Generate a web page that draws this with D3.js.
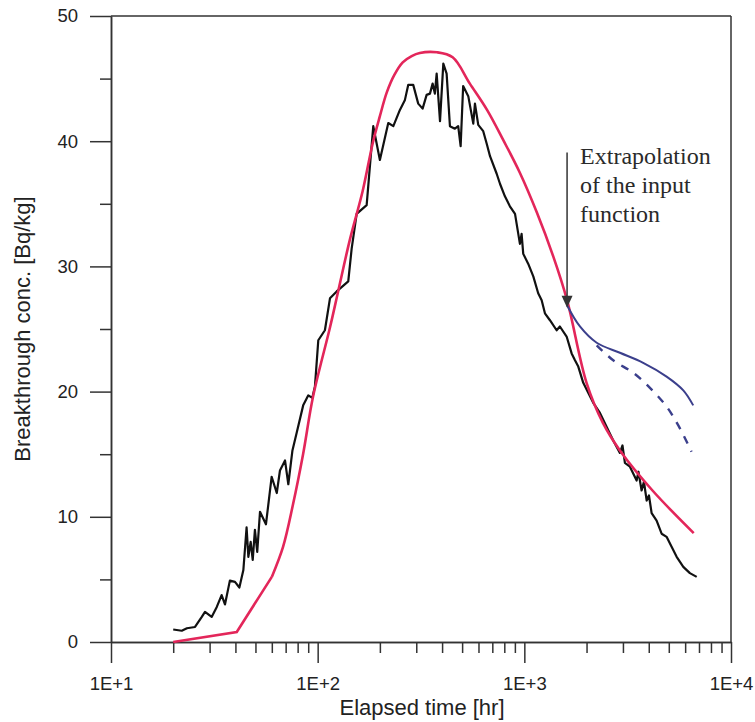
<!DOCTYPE html>
<html>
<head>
<meta charset="utf-8">
<script src="https://cdn.jsdelivr.net/npm/d3@7"></script>
<style>
  body { margin: 0; background: #fff; }
  .axis path, .axis line { stroke: #333; stroke-width: 1.5; }
  .axis text { font-family: "Liberation Sans", Arial, sans-serif; font-size: 18.5px; fill: #222; }
  .axis-title { font-family: "Liberation Sans", Arial, sans-serif; font-size: 22px; fill: #222; }
  .note { font-family: "Liberation Serif", "Times New Roman", serif; font-size: 24px; fill: #2a2a2a; }
</style>
</head>
<body>
<div id="chart-area"></div>
<script>
/*
*    breakthrough curve, log time axis
*/

// measured breakthrough (black)
var measTime = [20,22,23.3,25.5,27.5,28.5,30.7,32.5,34.3,35.6,
    37.6,39.8,41.8,43.7,45.3,46.2,47.4,48.5,49.7,51,
    52.6,56.2,59.9,63.4,65.7,69.5,72.1,75.5,79.1,85.1,
    90.1,94.2,97,100.7,108.4,114.7,123.6,140.6,146,154.4,
    172.6,185.8,200,219.6,232.3,250,264.4,274.4,290,306.6,
    322,336.7,349.4,359.9,369,376.5,390.8,405.5,420.7,436.5,
    461.3,478.6,491.8,505.8,535.5,566.2,576.8,598.4,632.6,657.7,
    682.3,734.9,762.4,805.4,851.5,901.5,918,952,970,988,
    1045,1105,1167,1213,1258,1330,1433,1486,1602,1694,
    1758,1824,1928,2038,2155,2322,2500,2692,2900,2985,
    3067,3243,3494,3566,3693,3791,3908,4009,4130,4366,
    4616,4879,5160,5458,5877,6325,6823];
var measConc = [1.0,0.9,1.1,1.2,2.0,2.4,2.0,2.8,3.75,3.0,
    4.9,4.8,4.35,5.75,9.15,6.8,8.0,6.55,8.95,7.2,
    10.4,9.4,13.2,11.9,13.7,14.5,12.6,15.3,16.7,18.9,
    19.7,19.5,20.4,24.1,24.9,27.45,28.0,28.8,31.4,34.2,
    34.9,41.2,38.5,41.45,41.2,42.5,43.3,44.5,44.5,43.0,
    42.6,43.7,43.8,44.6,43.8,45.4,41.6,46.2,45.4,41.2,
    41.0,41.2,39.6,44.4,43.6,41.4,43.0,41.3,40.8,39.8,
    38.8,37.4,36.6,35.6,34.8,34.2,33.4,31.8,32.6,31.0,
    30.2,29.2,27.85,27.3,26.25,25.7,24.9,25.2,24.4,23.05,
    22.5,22.0,20.7,19.9,19.1,18.3,17.2,16.1,15.1,15.7,
    14.3,14.0,12.9,13.6,12.1,12.8,11.3,11.7,10.3,9.7,
    8.65,8.4,7.6,6.8,6.0,5.5,5.2];

// model (red)
var modelTime = [20,40.6,60,68,76,85,95,115,126,143,165,185,200,216,235,258,285,312,378,450,545,660,790,950,1150,1380,1610,2000,2400,2900,4170,6600];
var modelConc = [0,0.8,5.2,7.6,11.0,15.0,19.6,25.2,28.1,32.1,36.0,39.9,42.0,43.9,45.3,46.3,46.8,47.05,47.1,46.7,44.6,42.5,40.1,37.5,34.3,30.8,27.3,20.7,17.5,15.3,12.1,8.7];

// extrapolated input (blue solid / dashed)
var extraTime = [1610,1858,2239,2900,3759,4879,5877,6565];
var extraConc = [26.9,25.2,23.9,23.1,22.3,21.2,20.1,18.9];
var extra2Time = [2239,2692,3366,4053,4879,5560,6442];
var extra2Conc = [23.7,22.5,21.5,20.3,18.8,17.3,15.2];

var xMajor = [10,100,1000,10000];
var yMajor = [0,10,20,30,40,50];
var yMinor = [5,15,25,35,45];
var noteLines = ["Extrapolation", "of the input", "function"];
var arrowTime = 1610, arrowTop = 39.1, arrowTip = 26.7;

var zip = (a, b) => a.map((d, i) => ({t: d, c: b[i]}));

var W = 755, H = 722;
var svg = d3.select("#chart-area").append("svg")
    .attr("width", W)
    .attr("height", H);

var x = d3.scaleLog().domain([10, 10000]).range([111, 731]);
var y = d3.scaleLinear().domain([0, 50]).range([642, 16]);

// minor x ticks 2..9 per decade
var xMinor = [];
[10, 100, 1000].forEach((p) => { for (var k = 2; k <= 9; k++) xMinor.push(k * p); });

// frame top/right
svg.append("line").attr("x1", x(10)).attr("x2", x(10000))
    .attr("y1", y(50)).attr("y2", y(50))
    .attr("stroke", "#333").attr("stroke-width", 1.5);
svg.append("line").attr("x1", x(10000)).attr("x2", x(10000))
    .attr("y1", y(50)).attr("y2", y(0))
    .attr("stroke", "#333").attr("stroke-width", 1.5);

// axes
svg.append("g").attr("class", "axis")
    .attr("transform", "translate(0," + y(0) + ")")
    .call(d3.axisBottom(x).tickValues(xMinor).tickSize(11).tickSizeOuter(0).tickFormat(""));
svg.append("g").attr("class", "axis")
    .attr("transform", "translate(0," + y(0) + ")")
    .call(d3.axisBottom(x).tickValues(xMajor).tickSize(21).tickSizeOuter(0).tickPadding(14)
        .tickFormat((d) => "1E+" + Math.round(Math.log10(d))));

svg.append("g").attr("class", "axis")
    .attr("transform", "translate(" + x(10) + ",0)")
    .call(d3.axisLeft(y).tickValues(yMinor).tickSize(11).tickSizeOuter(0).tickFormat(""));
svg.append("g").attr("class", "axis")
    .attr("transform", "translate(" + x(10) + ",0)")
    .call(d3.axisLeft(y).tickValues(yMajor).tickSize(21).tickSizeOuter(0).tickPadding(12));

// axis titles
svg.append("text").attr("class", "axis-title")
    .attr("x", 422).attr("y", 715)
    .attr("text-anchor", "middle")
    .text("Elapsed time [hr]");
svg.append("text").attr("class", "axis-title")
    .attr("transform", "translate(30," + ((y(0) + y(50)) / 2) + ") rotate(-90)")
    .attr("text-anchor", "middle")
    .text("Breakthrough conc. [Bq/kg]");

var line = d3.line()
    .x((d) => x(d.t))
    .y((d) => y(d.c));
var smooth = d3.line()
    .x((d) => x(d.t))
    .y((d) => y(d.c))
    .curve(d3.curveCatmullRom.alpha(0.5));

// measured
svg.append("path")
    .attr("fill", "none").attr("stroke", "#111").attr("stroke-width", 2.2)
    .attr("stroke-linejoin", "round")
    .attr("d", line(zip(measTime, measConc)));

// model: linear start, smooth after 60 hr
var model = zip(modelTime, modelConc);
svg.append("path")
    .attr("fill", "none").attr("stroke", "#e3265a").attr("stroke-width", 2.6)
    .attr("d", line(model.slice(0, 3)));
svg.append("path")
    .attr("fill", "none").attr("stroke", "#e3265a").attr("stroke-width", 2.6)
    .attr("d", smooth(model.slice(2)));

// extrapolations
svg.append("path")
    .attr("fill", "none").attr("stroke", "#3b3f8c").attr("stroke-width", 2)
    .attr("d", smooth(zip(extraTime, extraConc)));
svg.append("path")
    .attr("fill", "none").attr("stroke", "#3b3f8c").attr("stroke-width", 2.4)
    .attr("stroke-dasharray", "8,8")
    .attr("d", smooth(zip(extra2Time, extra2Conc)));

// arrow + note
var ax = x(arrowTime);
svg.append("line")
    .attr("x1", ax).attr("x2", ax)
    .attr("y1", y(arrowTop)).attr("y2", y(arrowTip) - 8)
    .attr("stroke", "#333").attr("stroke-width", 1.5);
svg.append("path")
    .attr("fill", "#333")
    .attr("d", "M" + (ax - 5.5) + "," + (y(arrowTip) - 12) + "L" + (ax + 5.5) + "," + (y(arrowTip) - 12) +
        "L" + ax + "," + y(arrowTip) + "Z");

svg.append("g").selectAll("text")
    .data(noteLines)
    .join("text")
    .attr("class", "note")
    .attr("x", ax + 13)
    .attr("y", (d, i) => y(arrowTop) + 12 + i * 29)
    .text((d) => d);
</script>
</body>
</html>
